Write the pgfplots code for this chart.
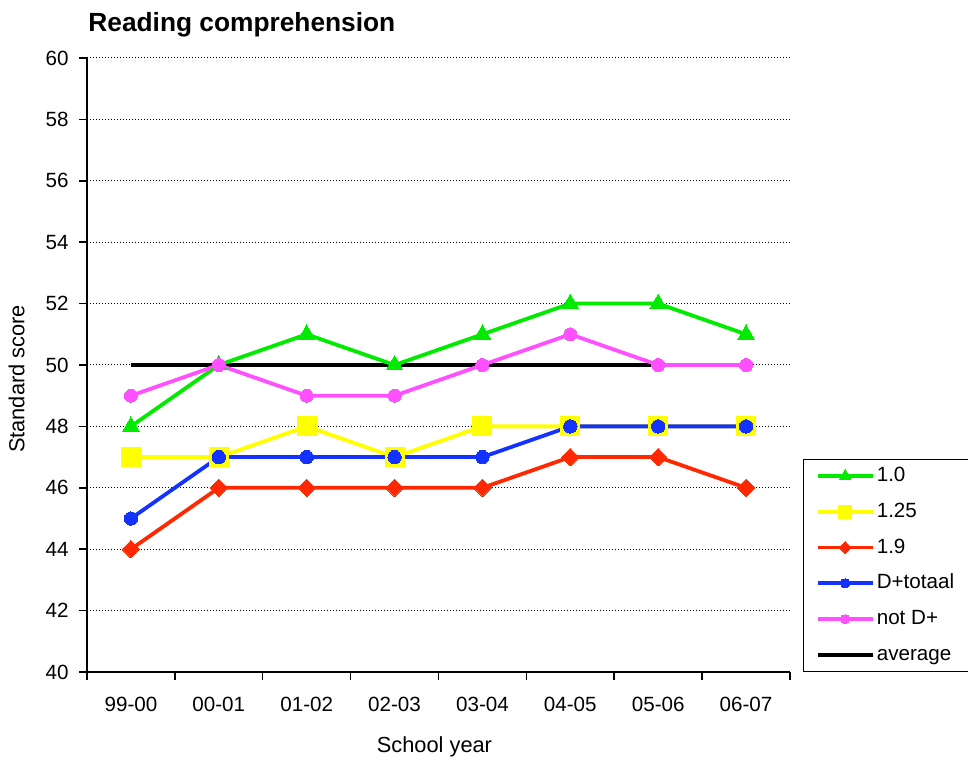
\documentclass[border=0pt]{standalone}
\usepackage{pgfplots}
\pgfplotsset{compat=1.18}
\usepackage{fontspec}
\setmainfont{Liberation Sans}

\definecolor{cGreen}{RGB}{0,235,0}
\definecolor{cYellow}{RGB}{255,255,0}
\definecolor{cRed}{RGB}{255,40,0}
\definecolor{cBlue}{RGB}{20,50,255}
\definecolor{cMagenta}{RGB}{255,80,255}

\newcommand{\chartfont}{\fontsize{20.6bp}{24bp}\selectfont}
\newcommand{\labelfont}{\fontsize{21.8bp}{26bp}\selectfont}

\begin{document}
\begin{tikzpicture}[font=\chartfont]
\useasboundingbox (-87bp,-88bp) rectangle (881bp,672bp);
\begin{axis}[
  at={(0,0)}, anchor=south west,
  scale only axis, width=703bp, height=614bp,
  xmin=-0.5, xmax=7.5, ymin=40, ymax=60,
  axis x line=bottom, axis y line=left,
  axis line style={line width=1.5bp, -},
  tick style={line width=1.5bp, black},
  tick align=outside,
  major tick length=8bp,
  ytick={40,42,...,60},
  xtick={-0.5,0.5,...,7.5},
  xticklabels={},
  extra x ticks={0,1,...,7},
  extra x tick labels={99-00,00-01,01-02,02-03,03-04,04-05,05-06,06-07},
  extra x tick style={major tick length=0pt, grid=none},
  tick label style={font=\chartfont},
  xticklabel style={yshift=-22bp},
  yticklabel style={xshift=-7bp},
  /pgf/number format/assume math mode=true,
  ymajorgrids,
  grid style={black, line width=1bp, dash pattern=on 1bp off 2bp},
  title={Reading comprehension},
  title style={at={(axis description cs:-0.003,1.0342)}, anchor=base west,
    font=\fontsize{26.3bp}{30bp}\selectfont\bfseries},
  xlabel={School year},
  every axis x label/.style={at={(axis description cs:0.4943,-0.1318)}, anchor=base, font=\labelfont},
  ylabel={Standard score},
  every axis y label/.style={at={(axis description cs:-0.1000,0.4772)}, anchor=center, rotate=90, font=\labelfont},
  legend style={at={(axis description cs:1.0185,0)}, anchor=south west,
    draw=black, line width=1.2bp, inner xsep=12bp, inner ysep=7bp,
    row sep=16.8bp, font=\chartfont,
    nodes={inner xsep=2bp, inner ysep=0bp, text height=15bp, text depth=4bp}},
  legend cell align=left,
  legend image code/.code={
    \draw[mark repeat=2, mark phase=2, /tikz/every mark/.append style={scale=0.7}]
      plot coordinates {(0bp,0bp) (27.5bp,0bp) (55bp,0bp)};},
]

% reference line for the average score
\addplot[black, line width=4.2bp, forget plot] coordinates {
  (0,50) (1,50) (2,50) (3,50) (4,50) (5,50) (6,50) (7,50)};

\addplot[cGreen, line width=3.8bp, mark=triangle*, mark size=9.5bp,
  mark options={solid, line width=0pt}] coordinates {
  (0,48) (1,50) (2,51) (3,50) (4,51) (5,52) (6,52) (7,51)};
\addlegendentry{1.0}

\addplot[cYellow, line width=3.8bp, mark=square*, mark size=9.5bp,
  mark options={solid, line width=0pt}] coordinates {
  (0,47) (1,47) (2,48) (3,47) (4,48) (5,48) (6,48) (7,48)};
\addlegendentry{1.25}

\addplot[cRed, line width=3.8bp, mark=square*, mark size=6.2bp,
  mark options={solid, rotate=45, line width=0pt}] coordinates {
  (0,44) (1,46) (2,46) (3,46) (4,46) (5,47) (6,47) (7,46)};
\addlegendentry{1.9}

\addplot[cBlue, line width=3.8bp, mark=*, mark size=6.7bp,
  mark options={solid, line width=0pt}] coordinates {
  (0,45) (1,47) (2,47) (3,47) (4,47) (5,48) (6,48) (7,48)};
\addlegendentry{D+totaal}

\addplot[cMagenta, line width=3.8bp, mark=*, mark size=6.5bp,
  mark options={solid, line width=0pt}] coordinates {
  (0,49) (1,50) (2,49) (3,49) (4,50) (5,51) (6,50) (7,50)};
\addlegendentry{not D+}

\addlegendimage{black, line width=4.2bp}
\addlegendentry{average}
\end{axis}
\end{tikzpicture}
\end{document}
